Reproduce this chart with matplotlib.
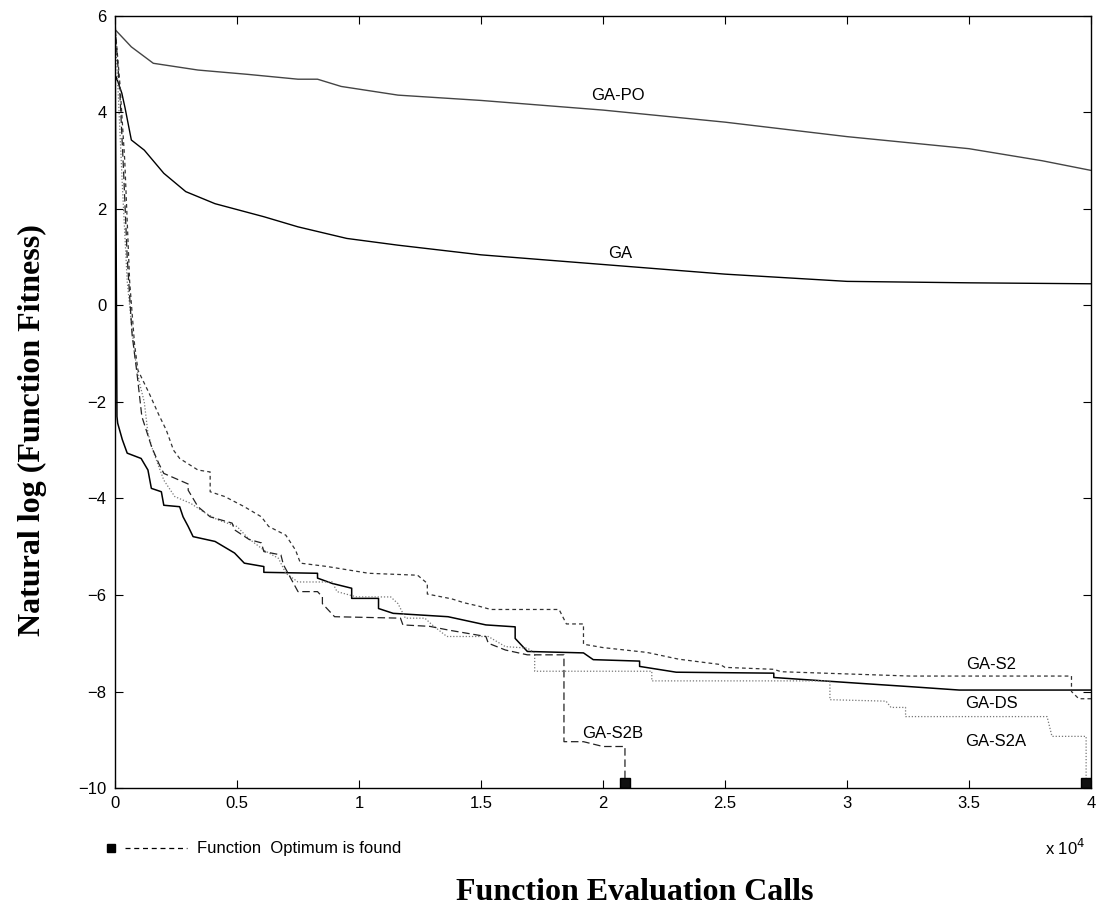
import numpy as np
import matplotlib
matplotlib.use('Agg')
from matplotlib import pyplot as plt
from matplotlib.lines import Line2D

# x values are in units of 10^4 function evaluation calls
po_x = [0, 0.002, 0.067, 0.157, 0.34, 0.545, 0.75, 0.83, 0.927, 1.16, 1.5, 2.0, 2.5, 3.0, 3.5, 3.8, 4.0]
po_y = [5.9, 5.71, 5.36, 5.02, 4.88, 4.79, 4.69, 4.69, 4.54, 4.36, 4.25, 4.05, 3.8, 3.5, 3.25, 3.0, 2.8]

ga_x = [0, 0.005, 0.028, 0.041, 0.067, 0.12, 0.2, 0.29, 0.41, 0.61, 0.75, 0.95, 1.16, 1.5, 2.0, 2.5, 3.0, 3.5, 4.0]
ga_y = [4.6, 4.74, 4.40, 4.1, 3.43, 3.22, 2.74, 2.36, 2.11, 1.84, 1.63, 1.39, 1.25, 1.05, 0.85, 0.65, 0.5, 0.47, 0.45]

ds_x = [0, 0.004, 0.008, 0.011, 0.03, 0.05, 0.107, 0.135, 0.149, 0.19, 0.2, 0.265, 0.279, 0.3, 0.32,
        0.41, 0.49, 0.53, 0.61, 0.61, 0.83, 0.83, 0.89, 0.97, 0.97, 1.08, 1.08, 1.14, 1.365, 1.52,
        1.64, 1.64, 1.69, 1.92, 1.96, 2.15, 2.15, 2.30, 2.7, 2.7, 3.05, 3.26, 3.46, 4.0]
ds_y = [5.8, 2.0, -2.3, -2.44, -2.78, -3.06, -3.17, -3.41, -3.79, -3.86, -4.14, -4.17, -4.38, -4.58, -4.79,
        -4.89, -5.13, -5.34, -5.41, -5.53, -5.55, -5.65, -5.76, -5.86, -6.07, -6.07, -6.28, -6.38, -6.45, -6.62,
        -6.66, -6.9, -7.17, -7.2, -7.34, -7.37, -7.48, -7.6, -7.62, -7.71, -7.83, -7.9, -7.97, -7.97]

s2_x = [0, 0.02, 0.04, 0.06, 0.08, 0.094, 0.14, 0.18, 0.21, 0.24, 0.265, 0.34, 0.39, 0.39, 0.45, 0.53, 0.6,
        0.63, 0.7, 0.74, 0.76, 0.87, 1.04, 1.24, 1.28, 1.28, 1.38, 1.43, 1.49, 1.54, 1.82, 1.85, 1.92, 1.92,
        2.0, 2.18, 2.31, 2.48, 2.5, 2.7, 2.73, 3.26, 3.89, 3.92, 3.92, 3.95, 4.0]
s2_y = [5.8, 4.6, 3.0, 0.5, -0.8, -1.34, -1.82, -2.27, -2.58, -3.0, -3.17, -3.41, -3.45, -3.86, -3.96, -4.17, -4.38,
        -4.58, -4.76, -5.07, -5.34, -5.41, -5.55, -5.59, -5.76, -5.98, -6.08, -6.16, -6.23, -6.3, -6.3, -6.6, -6.6, -7.02,
        -7.09, -7.19, -7.33, -7.44, -7.5, -7.54, -7.59, -7.68, -7.68, -7.68, -8.0, -8.15, -8.15]

s2a_x = [0, 0.015, 0.03, 0.05, 0.08, 0.1, 0.12, 0.135, 0.155, 0.2, 0.245, 0.31, 0.37, 0.42, 0.5, 0.545, 0.61,
         0.67, 0.7, 0.75, 0.89, 0.91, 0.99, 1.13, 1.16, 1.19, 1.27, 1.3, 1.36, 1.53, 1.6, 1.69, 1.72, 1.72,
         2.2, 2.2, 2.93, 2.93, 3.16, 3.18, 3.24, 3.24, 3.82, 3.84, 3.98, 3.98]
s2a_y = [5.8, 4.2, 2.5, 0.5, -1.0, -1.6, -2.0, -2.65, -3.0, -3.62, -3.96, -4.1, -4.3, -4.44, -4.58, -4.82, -5.07,
         -5.24, -5.55, -5.73, -5.73, -5.93, -6.04, -6.04, -6.18, -6.48, -6.48, -6.62, -6.86, -6.86, -7.07, -7.1, -7.2, -7.58,
         -7.58, -7.78, -7.78, -8.17, -8.2, -8.33, -8.33, -8.52, -8.52, -8.93, -8.93, -9.9]

s2b_x = [0, 0.02, 0.035, 0.05, 0.07, 0.09, 0.11, 0.15, 0.18, 0.2, 0.25, 0.3, 0.3, 0.32, 0.34, 0.39, 0.48, 0.49,
         0.55, 0.6, 0.61, 0.68, 0.69, 0.75, 0.83, 0.85, 0.85, 0.9, 1.17, 1.18, 1.29, 1.37, 1.52, 1.53, 1.6,
         1.69, 1.84, 1.84, 1.92, 2.0, 2.09, 2.09]
s2b_y = [5.8, 4.4, 2.8, 1.0, -0.6, -1.4, -2.3, -2.93, -3.28, -3.48, -3.59, -3.7, -3.83, -4.0, -4.17, -4.38, -4.51, -4.65,
         -4.85, -4.92, -5.1, -5.17, -5.37, -5.93, -5.93, -6.04, -6.18, -6.45, -6.48, -6.62, -6.65, -6.73, -6.86, -7.0, -7.14,
         -7.24, -7.24, -9.04, -9.04, -9.14, -9.14, -9.9]

# where the optimum was reached
opt_x = [2.09, 3.98]
opt_y = [-9.9, -9.9]

labels = ['GA-PO', 'GA', 'GA-S2', 'GA-DS', 'GA-S2A', 'GA-S2B']
label_x = [2.06, 2.07, 3.59, 3.59, 3.61, 2.04]
label_y = [4.35, 1.08, -7.45, -8.25, -9.04, -8.87]

xticks = [0, 0.5, 1, 1.5, 2, 2.5, 3, 3.5, 4]
xticklabels = ['0', '0.5', '1', '1.5', '2', '2.5', '3', '3.5', '4']
yticks = [-10, -8, -6, -4, -2, 0, 2, 4, 6]

sans = ['Liberation Sans', 'DejaVu Sans']
serif = ['Liberation Serif', 'DejaVu Serif']

fig = plt.figure(figsize=(10.98, 9.19), dpi=100)
W, H = 1098.0, 919.0
ax = fig.add_axes([115 / W, 1 - 788 / H, 976 / W, 772 / H])

ax.plot(po_x, po_y, color='#444444', lw=1.0)
ax.plot(ga_x, ga_y, color='black', lw=1.0)
ax.plot(ds_x, ds_y, color='black', lw=1.1)
ax.plot(s2_x, s2_y, color='#333333', lw=0.9, dashes=(3, 2.5))
ax.plot(s2a_x, s2a_y, color='#777777', lw=0.9, dashes=(1, 1.5))
ax.plot(s2b_x, s2b_y, color='#222222', lw=0.9, dashes=(6, 3))
ax.plot(opt_x, opt_y, 's', color='black', mec='black', mfc='#111111', ms=7, ls='none')

for t, lx, ly in zip(labels, label_x, label_y):
    ax.text(lx, ly, t, ha='center', va='center', fontsize=12, family=sans)

ax.set_xlim(0, 4)
ax.set_ylim(-10, 6)
ax.set_xticks(xticks)
ax.set_xticklabels(xticklabels, family=sans, fontsize=12)
ax.set_yticks(yticks)
ax.set_yticklabels([str(v).replace('-', '\u2212') for v in yticks], family=sans, fontsize=12)
ax.tick_params(direction='in', top=True, right=True, length=6, width=0.8, pad=6)
for s in ax.spines.values():
    s.set_linewidth(1.0)

# exponent of the x axis
fig.text(1085 / W, 1 - 848 / H, r'x 10$^{4}$', ha='right', va='center', fontsize=12, family=sans)

# key for the optimum marker
fig.add_artist(Line2D([111 / W], [1 - 848 / H], marker='s', color='black', ms=6, transform=fig.transFigure))
fig.add_artist(Line2D([125 / W, 187 / W], [1 - 848 / H, 1 - 848 / H], color='black', lw=0.9,
                      dashes=(4, 3), transform=fig.transFigure))
fig.text(197 / W, 1 - 848 / H, 'Function  Optimum is found', ha='left', va='center', fontsize=12, family=sans)

fig.text(635 / W, 1 - 893 / H, 'Function Evaluation Calls', ha='center', va='center',
         fontsize=23, fontweight='bold', family=serif)
fig.text(32 / W, 1 - 430 / H, 'Natural log (Function Fitness)', ha='center', va='center', rotation=90,
         fontsize=23, fontweight='bold', family=serif)

fig.savefig('out.png', dpi=100)
